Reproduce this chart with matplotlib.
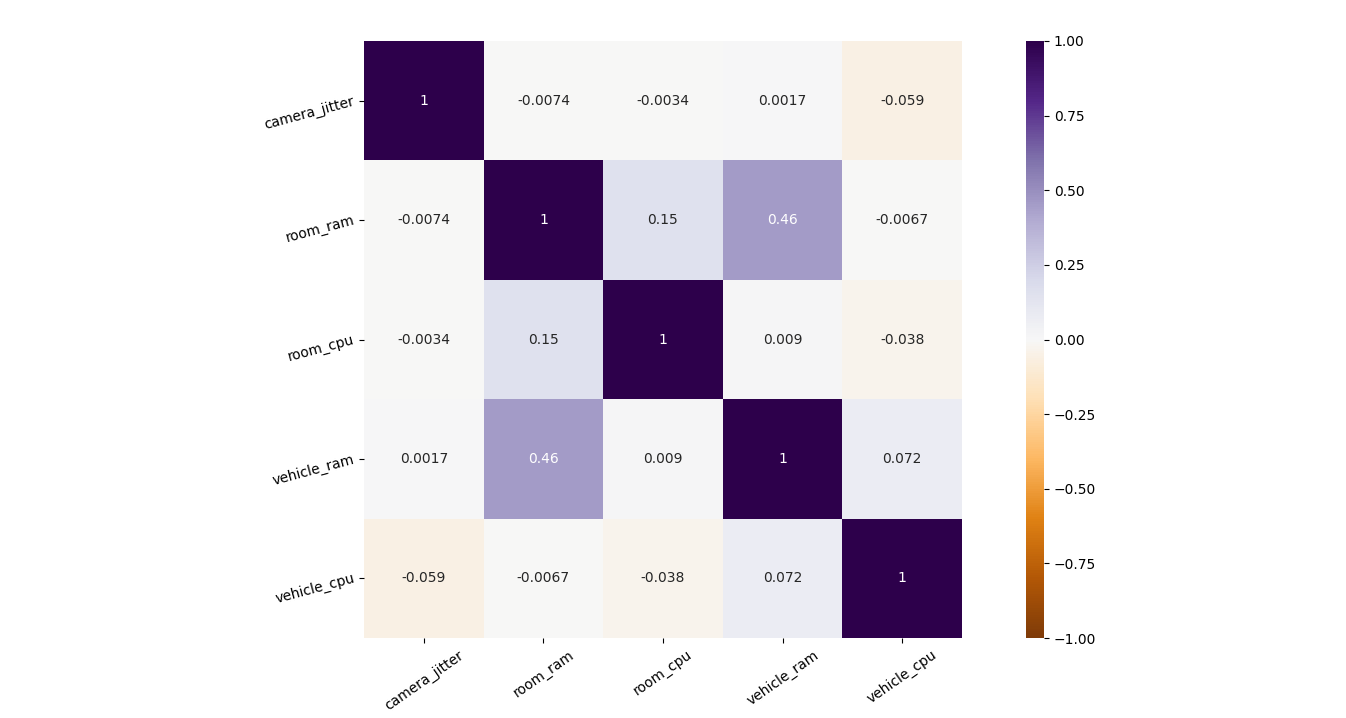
import numpy as np
import pandas as pd
import matplotlib
matplotlib.use("Agg")
import matplotlib.pyplot as plt
import seaborn as sns

names = ['camera_jitter', 'room_ram', 'room_cpu', 'vehicle_ram', 'vehicle_cpu']
row_camera_jitter = [1, -0.0074, -0.0034, 0.0017, -0.059]
row_room_ram = [-0.0074, 1, 0.15, 0.46, -0.0067]
row_room_cpu = [-0.0034, 0.15, 1, 0.009, -0.038]
row_vehicle_ram = [0.0017, 0.46, 0.009, 1, 0.072]
row_vehicle_cpu = [-0.059, -0.0067, -0.038, 0.072, 1]

corr = pd.DataFrame([row_camera_jitter, row_room_ram, row_room_cpu,
                     row_vehicle_ram, row_vehicle_cpu],
                    index=names, columns=names)

fig = plt.figure(figsize=(13.46, 7.18), dpi=100)
ax = fig.add_axes([364/1346, 1-638/718, 598/1346, 597/718])
cax = fig.add_axes([1026/1346, 1-638/718, 18/1346, 597/718])

sns.heatmap(corr, annot=True, cmap='PuOr', vmin=-1, vmax=1,
            ax=ax, cbar_ax=cax)
ax.set_yticklabels(names, rotation=15, rotation_mode='anchor', va='center', ha='right')
ax.set_xticklabels(names, rotation=35)

plt.savefig('out.png', dpi=100)
plt.close()
